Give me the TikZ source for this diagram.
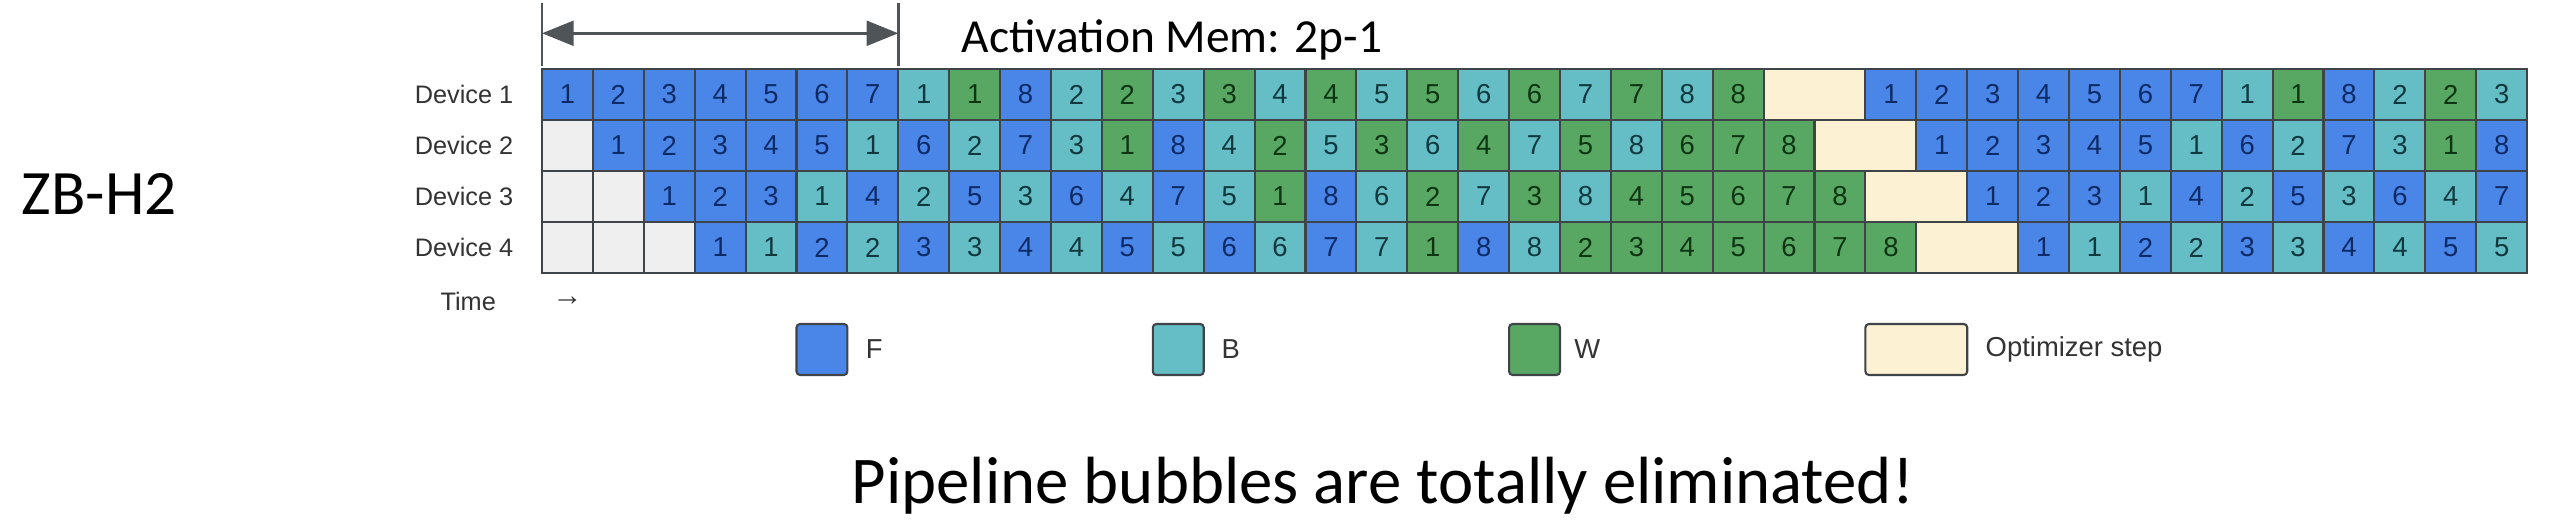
\documentclass[tikz,border=0pt]{standalone}
\usepackage{fontspec}
\setmainfont{Liberation Sans}
\newfontfamily\calibri{Carlito}
\usetikzlibrary{arrows.meta}

\definecolor{fwdblue}{HTML}{4A86E8}
\definecolor{bwdteal}{HTML}{65BDC5}
\definecolor{wgtgreen}{HTML}{58A864}
\definecolor{optcream}{HTML}{FDF1D3}
\definecolor{idlegray}{HTML}{EFEFEF}
\definecolor{gridline}{HTML}{3F4448}
\definecolor{fwdtext}{HTML}{0C2A66}
\definecolor{bwdtext}{HTML}{10393F}
\definecolor{wgttext}{HTML}{0D3512}
\definecolor{labelgray}{HTML}{333333}
\definecolor{memgray}{HTML}{4F5459}

\tikzset{
  cell/.style={draw=gridline, line width=0.6pt, minimum width=5.09mm, minimum height=5.1mm,
    inner sep=0pt, font=\fontsize{7.8}{8}\selectfont},
  cellF/.style={cell, fill=fwdblue, text=fwdtext},
  cellB/.style={cell, fill=bwdteal, text=bwdtext},
  cellW/.style={cell, fill=wgtgreen, text=wgttext},
  cellO/.style={cell, fill=optcream, minimum width=10.18mm},
  cellE/.style={cell, fill=idlegray},
  lbl/.style={text=labelgray, font=\fontsize{7.2}{8}\selectfont, inner sep=0pt},
  keylbl/.style={text=labelgray, font=\fontsize{7.8}{9}\selectfont, inner sep=0pt, anchor=west},
  bigtext/.style={inner sep=0pt, font=\calibri\fontsize{#1}{#1}\selectfont},
}

% one device row: row, first column, list of kind/microbatch
\newcommand{\taskrow}[3]{%
  \foreach \k/\n [count=\c from #2] in {#3} {
    \node[cell\k] (d#1c\c) at (\c+0.5, #1-0.5) {\n};
  }}

\begin{document}
\begin{tikzpicture}[x=5.09mm, y=-5.1mm]
\useasboundingbox (-54.2mm,6.9mm) rectangle (203.4mm,-46.3mm);

% activation memory span
\draw[memgray, line width=0.8pt] (0,-1.29) -- (0,-0.06);
\draw[memgray, line width=0.8pt] (7,-1.29) -- (7,-0.06);
\coordinate (memL) at (0,-0.7);
\coordinate (memR) at (7,-0.7);
\draw[memgray, line width=1pt, {Triangle[length=9pt,width=7pt]}-{Triangle[length=9pt,width=7pt]}] (memL) -- (memR);
\node[bigtext=13.5, anchor=base west] (memtext) at (8.23,-0.333) {Activation Mem: 2p-1};

\node[bigtext=18, anchor=base] (title) at (-8.7,2.86) {ZB-H2};

% device rows
\foreach \r in {1,...,4}
  \node[lbl, anchor=east] (dev\r) at (-0.55,\r-0.5) {Device \r};

\taskrow{1}{0}{F/1,F/2,F/3,F/4,F/5,F/6,F/7,B/1,W/1,F/8,B/2,W/2,B/3,W/3,B/4,W/4,B/5,W/5,B/6,W/6,B/7,W/7,B/8,W/8}
\taskrow{1}{26}{F/1,F/2,F/3,F/4,F/5,F/6,F/7,B/1,W/1,F/8,B/2,W/2,B/3}

\taskrow{2}{0}{E/{}}
\taskrow{2}{1}{F/1,F/2,F/3,F/4,F/5,B/1,F/6,B/2,F/7,B/3,W/1,F/8,B/4,W/2,B/5,W/3,B/6,W/4,B/7,W/5,B/8,W/6,W/7,W/8}
\taskrow{2}{27}{F/1,F/2,F/3,F/4,F/5,B/1,F/6,B/2,F/7,B/3,W/1,F/8}

\taskrow{3}{0}{E/{},E/{}}
\taskrow{3}{2}{F/1,F/2,F/3,B/1,F/4,B/2,F/5,B/3,F/6,B/4,F/7,B/5,W/1,F/8,B/6,W/2,B/7,W/3,B/8,W/4,W/5,W/6,W/7,W/8}
\taskrow{3}{28}{F/1,F/2,F/3,B/1,F/4,B/2,F/5,B/3,F/6,B/4,F/7}

\taskrow{4}{0}{E/{},E/{},E/{}}
\taskrow{4}{3}{F/1,B/1,F/2,B/2,F/3,B/3,F/4,B/4,F/5,B/5,F/6,B/6,F/7,B/7,W/1,F/8,B/8,W/2,W/3,W/4,W/5,W/6,W/7,W/8}
\taskrow{4}{29}{F/1,B/1,F/2,B/2,F/3,B/3,F/4,B/4,F/5,B/5}

% optimizer steps
\foreach \r in {1,...,4}
  \node[cellO] (opt\r) at (24+\r,\r-0.5) {};

\node[lbl, anchor=base] (time) at (-1.45,4.73) {Time};
\node[lbl, font=\fontsize{8.6}{9}\selectfont] (timearrow) at (0.5,4.55) {→};

% legend
\node[cellF, rounded corners=1pt] (keyF) at (5.5,5.5) {};
\node[keylbl] (keyFtext) at (6.35,5.5) {F};
\node[cellB, rounded corners=1pt] (keyB) at (12.5,5.5) {};
\node[keylbl] (keyBtext) at (13.34,5.5) {B};
\node[cellW, rounded corners=1pt] (keyW) at (19.5,5.5) {};
\node[keylbl] (keyWtext) at (20.27,5.5) {W};
\node[cellO, rounded corners=1pt] (keyO) at (27,5.5) {};
\node[keylbl] (keyOtext) at (28.35,5.5) {Optimizer step};

\node[bigtext=19, anchor=base] (summary) at (16.52,8.51) {Pipeline bubbles are totally eliminated!};

\end{tikzpicture}
\end{document}
